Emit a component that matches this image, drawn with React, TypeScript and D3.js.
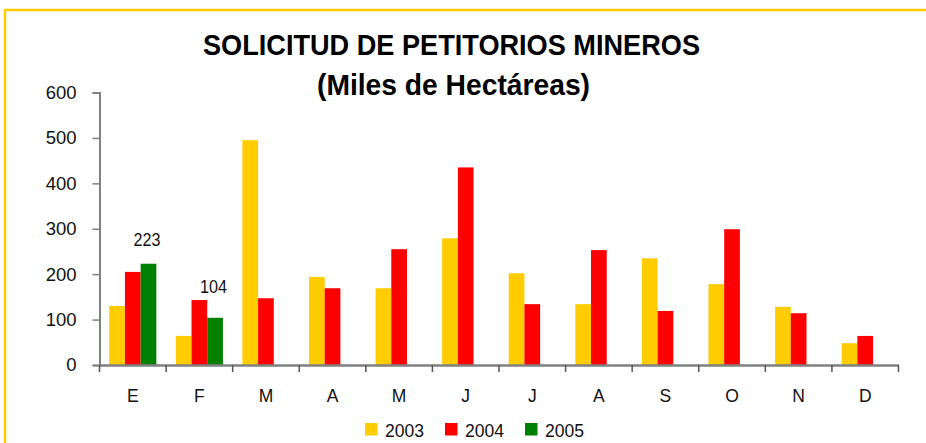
import React, { useEffect, useRef } from "react";
import * as d3 from "d3";

const months = ["E", "F", "M", "A", "M", "J", "J", "A", "S", "O", "N", "D"];
const years = ["2003", "2004", "2005"];
const values2003 = [130, 64, 495, 194, 169, 279, 202, 134, 235, 178, 128, 48];
const values2004 = [205, 143, 147, 169, 255, 435, 134, 253, 119, 299, 114, 64];
const values2005 = [223, 104];
const yTicks = [0, 100, 200, 300, 400, 500, 600];

const colors: Record<string, string> = {
  "2003": "#FFCC00",
  "2004": "#FF0000",
  "2005": "#008000",
};

const FONT = "'Liberation Sans', Arial, sans-serif";

export default function App() {
  const svgRef = useRef<SVGSVGElement>(null);

  useEffect(() => {
    const width = 926;
    const height = 443;

    const svg = d3.select(svgRef.current);
    svg.selectAll("*").remove();
    svg.attr("width", width).attr("height", height);

    // yellow frame, running off the right and bottom edges
    svg
      .append("rect")
      .attr("x", 5)
      .attr("y", 10)
      .attr("width", 940)
      .attr("height", 460)
      .attr("fill", "white")
      .attr("stroke", "#FFCC00")
      .attr("stroke-width", 2.5);

    const series = [values2003, values2004, values2005];

    const x0 = d3
      .scaleBand<number>()
      .domain(d3.range(months.length))
      .range([99.5, 898.5])
      .padding(0);

    const x1 = d3
      .scaleBand<string>()
      .domain(years)
      .range([0, x0.bandwidth()])
      .paddingInner(0)
      .paddingOuter(0.62);

    const y = d3.scaleLinear().domain([0, 600]).range([365, 92.5]);

    // bars
    const g = svg.append("g");
    years.forEach((yr, si) => {
      g.selectAll(`rect.s${yr}`)
        .data(series[si])
        .join("rect")
        .attr("class", `s${yr}`)
        .attr("x", (d, i) => x0(i)! + x1(yr)!)
        .attr("y", (d) => y(d))
        .attr("width", x1.bandwidth())
        .attr("height", (d) => y(0) - y(d))
        .attr("fill", colors[yr]);
    });

    // data labels on the 2005 bars (placed by hand in the original)
    const labelLift = [18, 25];
    g.selectAll("text.lab")
      .data(values2005)
      .join("text")
      .attr("class", "lab")
      .attr("x", (d, i) => x0(i)! + x1("2005")! + x1.bandwidth() / 2 - 1.5)
      .attr("y", (d, i) => y(d) - labelLift[i])
      .attr("text-anchor", "middle")
      .attr("textLength", 27)
      .attr("lengthAdjust", "spacingAndGlyphs")
      .style("font-family", FONT)
      .style("font-size", "18.5px")
      .style("fill", "#111")
      .text((d) => d);

    // y axis
    const yAxis = svg
      .append("g")
      .attr("transform", "translate(99.5,0)")
      .call(d3.axisLeft(y).tickValues(yTicks).tickSize(7).tickPadding(16));
    yAxis.select(".domain").attr("stroke", "#808080").attr("stroke-width", 2);
    yAxis.selectAll(".tick line").attr("stroke", "#808080").attr("stroke-width", 1.5);
    yAxis
      .selectAll(".tick text")
      .style("font-family", FONT)
      .style("font-size", "18.5px")
      .style("fill", "#111");

    // x axis
    const xAxis = svg
      .append("g")
      .attr("transform", "translate(0,365)")
      .call(
        d3
          .axisBottom(x0)
          .tickSize(0)
          .tickPadding(25)
          .tickFormat((i) => months[i as number])
      );
    xAxis.select(".domain").attr("stroke", "#808080").attr("stroke-width", 2.5);
    xAxis
      .selectAll(".tick text")
      .style("font-family", FONT)
      .style("font-size", "17.5px")
      .style("fill", "#111");

    // x tick marks at the band edges
    const bounds = d3
      .range(months.length + 1)
      .map((i) => (i < months.length ? x0(i)! : x0(i - 1)! + x0.bandwidth()));
    svg
      .append("g")
      .selectAll("line")
      .data(bounds)
      .join("line")
      .attr("x1", (d) => d)
      .attr("x2", (d) => d)
      .attr("y1", 365)
      .attr("y2", 372)
      .attr("stroke", "#555")
      .attr("stroke-width", 1.5);

    // title
    const title = (txt: string, x: number, yy: number, len: number) =>
      svg
        .append("text")
        .attr("x", x)
        .attr("y", yy)
        .attr("textLength", len)
        .attr("lengthAdjust", "spacingAndGlyphs")
        .style("font-family", FONT)
        .style("font-weight", "bold")
        .style("font-size", "30px")
        .style("fill", "#000")
        .text(txt);
    title("SOLICITUD DE PETITORIOS MINEROS", 203, 55, 497);
    title("(Miles de Hectáreas)", 317, 95, 273);

    // legend
    const legendX = d3.scalePoint<string>().domain(years).range([365, 525]);
    const leg = svg
      .append("g")
      .selectAll("g")
      .data(years)
      .join("g")
      .attr("transform", (d) => `translate(${legendX(d)},423)`);
    leg
      .append("rect")
      .attr("width", 12.5)
      .attr("height", 12.5)
      .attr("fill", (d) => colors[d]);
    leg
      .append("text")
      .attr("x", 20)
      .attr("y", 13.6)
      .attr("textLength", 39)
      .attr("lengthAdjust", "spacingAndGlyphs")
      .style("font-family", FONT)
      .style("font-size", "19px")
      .style("fill", "#111")
      .text((d) => d);
  }, []);

  return (
    <div style={{ position: "absolute", left: 0, top: 0 }}>
      <svg ref={svgRef} style={{ display: "block" }} />
    </div>
  );
}
